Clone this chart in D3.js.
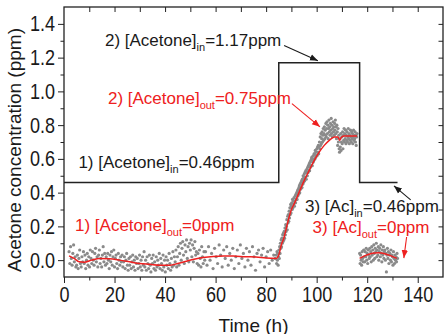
<!DOCTYPE html>
<html>
<head>
<meta charset="utf-8">
<script src="https://cdn.jsdelivr.net/npm/d3@7"></script>
<style>
  body { margin: 0; background: #fff; }
  svg { display: block; font-family: "Liberation Sans", Arial, sans-serif; }
</style>
</head>
<body>
<div id="chart"></div>
<script>
// ----------------------
// Data
// ----------------------
// inlet concentration (step profile)
const inletT = [0, 85, 85, 117, 117, 132];
const inletV = [0.46, 0.46, 1.17, 1.17, 0.46, 0.46];

// outlet measurements, sampled at a fixed interval per run
const seg1aStart = 2, seg1aStep = 0.3;
const seg1aValues = [
  .05,-.02,.08,.01,-.03,.04,.09,-.01,.02,-.04,
  -.03,.03,-.05,.01,.06,-.02,-.04,.02,-.01,.05,
  -.02,.03,-.05,.0,.04,-.03,.02,-.04,.06,.01,
  -.02,.05,.0,-.03,.04,.07,-.01,.02,-.04,.03,
  .06,-.02,.01,-.04,.03,.08,-.01,.04,-.03,.02,
  -.02,.04,.0,-.05,.03,-.01,.05,-.03,.02,.06,
  -.04,.01,.03,-.02,-.05,.04,.0,-.03,.02,-.01,
  .03,-.04,-.01,.02,-.05,.0,.04,-.03,-.06,.01,
  -.03,.02,-.05,-.01,.03,-.04,.0,-.06,.02,-.02,
  .01,-.05,-.02,.03,-.04,.0,-.06,.02,-.03,.05,
  -.04,.0,-.06,.02,-.02,-.05,.03,-.03,-.07,.01,
  -.02,.03,-.05,-.01,-.06,.02,-.04,.0,-.03,.04,
  -.05,.01,-.02,-.06,.03,-.04,.0,-.07,.02,-.03,
  .0,-.05,.04,-.02,-.06,.01,-.04,.05,-.03,.02,
  -.01,.06,-.04,.02,.08,-.03,.04,.1,.0,.07,
  .11,.03,-.02,.09,.05,.12,.01,.08,-.01,.1,
  .06,.12,.02,.09,-.01,.07,.11,.03,.05,-.02,
  .04,-.03,.06,.01,-.04,.08,.02,-.02,.05,.0
];
const seg1bStart = 56, seg1bStep = 0.6;
const seg1bValues = [
  .05,-.03,.08,.0,.04,-.05,.07,.02,-.02,.09,
  .03,-.04,.06,.01,.08,-.03,.04,.0,.07,-.05,
  .02,.06,-.02,.09,.01,.04,-.04,.07,.0,.05,
  -.03,.08,.02,-.06,.04,.06,-.01,.03,.07,-.04,
  .02,.05,-.02,.06,.0,.03,.01
];
const seg2Start = 84, seg2Step = 0.15;
const seg2Values = [
  .03,-.02,.05,.0,.04,-.03,.02,
  .06,.01,.08,.04,.1,.07,.12,
  .08,.13,.1,.15,.11,.16,.12,
  .17,.13,.19,.15,.21,.17,
  .2,.24,.18,.26,.22,.27,.23,
  .29,.25,.31,.27,.33,.28,.32,
  .34,.3,.36,.31,.35,.33,
  .37,.32,.35,.38,.34,.39,.36,
  .4,.36,.41,.38,.42,.39,.43,
  .44,.4,.45,.42,.46,.43,
  .47,.43,.48,.45,.5,.46,.49,
  .51,.47,.52,.49,.53,.48,.52,
  .54,.5,.55,.52,.56,.53,
  .57,.53,.58,.55,.59,.56,.6,
  .61,.56,.6,.58,.62,.59,.63,
  .63,.6,.65,.61,.64,.62,
  .66,.62,.67,.64,.68,.63,.67,
  .7,.66,.73,.68,.75,.69,.72,
  .76,.7,.74,.78,.71,.75,
  .79,.72,.77,.74,.81,.73,.78,
  .82,.75,.8,.72,.78,.83,.76,
  .79,.74,.81,.77,.84,.75,
  .8,.73,.78,.82,.76,.79,.74,
  .81,.77,.83,.75,.79,.72,.8,
  .76,.68,.78,.7,.74,.66,
  .64,.72,.67,.75,.65,.7,.73,
  .69,.76,.66,.74,.71,.78,.7,
  .75,.72,.77,.69,.74,.71,
  .76,.7,.73,.78,.72,.75,.69,
  .74,.71,.77,.73,.7,.76,.72,
  .75,.69,.73,.77,.71,.74,
  .72,.76,.7,.74,.68,.73,.75
];
const seg3Start = 117, seg3Step = 0.2;
const seg3Values = [
  .04,-.02,.03,.0,-.03,.05,.01,-.01,.06,.02,
  -.01,.05,.02,.07,.0,.04,-.02,.06,.03,.01,
  .07,.02,.05,-.01,.08,.03,.06,.0,.09,.04,
  .01,.07,.05,.1,.02,.06,.03,.08,.0,.05,
  .07,.02,.09,.04,-.01,.06,.03,.08,.01,.05,
  .06,.0,.04,-.07,.03,.07,.01,.05,-.02,.03,
  .04,.0,.06,-.01,.03,.02,-.03,.05,.01,-.02,
  .03,.0,.02,-.01,.04,.01
];

// smoothed outlet curves
const fitT1 = [2, 4, 6, 8, 11, 14, 18, 22, 26, 30, 34, 38, 42, 45, 48, 51, 55, 59, 63, 67,
  72, 76, 80, 84, 85, 86, 87, 88, 89, 90, 91, 93, 95, 97, 99, 101, 103, 105, 107, 108.4,
  109.1, 109.8, 111, 113, 116];
const fitV1 = [0.025, 0.01, -0.01, -0.012, 0.0, 0.01, 0.008, 0.0, -0.01, -0.02, -0.025, -0.03, -0.03, -0.02, -0.008, 0.004, 0.015, 0.022, 0.025, 0.024,
  0.02, 0.018, 0.012, 0.01, 0.03, 0.09, 0.13, 0.19, 0.25, 0.30, 0.33, 0.40, 0.47, 0.53, 0.59, 0.64, 0.68, 0.71, 0.73, 0.73,
  0.71, 0.728, 0.735, 0.735, 0.735];
const fitT3 = [117, 119, 121, 123, 124.4, 127, 129, 131, 131.7];
const fitV3 = [0.01, 0.025, 0.036, 0.042, 0.043, 0.038, 0.028, 0.015, 0.01];

// axis ticks
const xMajor = [0, 20, 40, 60, 80, 100, 120, 140];
const xMinor = [10, 30, 50, 70, 90, 110, 130];
const yMajor = [0, 0.2, 0.4, 0.6, 0.8, 1.0, 1.2, 1.4];
const yMinor = [0.1, 0.3, 0.5, 0.7, 0.9, 1.1, 1.3];

const BLACK = "#1a1a1a", RED = "#ee2020";

// annotation labels, anchored in data units
const notes = [
  { t: 16.2, v: 1.266, color: BLACK, pre: "2) [Acetone]", sub: "in",  post: "=1.17ppm" },
  { t: 17.4, v: 0.925, color: RED,   pre: "2) [Acetone]", sub: "out", post: "=0.75ppm" },
  { t: 5.7,  v: 0.545, color: BLACK, pre: "1) [Acetone]", sub: "in",  post: "=0.46ppm" },
  { t: 4.35, v: 0.172, color: RED,   pre: "1) [Acetone]", sub: "out", post: "=0ppm" },
  { t: 95.4, v: 0.287, color: BLACK, pre: "3) [Ac]",      sub: "in",  post: "=0.46ppm" },
  { t: 98.4, v: 0.158, color: RED,   pre: "3) [Ac]",      sub: "out", post: "=0ppm" }
];
const arrows = [
  { from: [87.1, 1.272], to: [100.5, 1.182], color: BLACK },
  { from: [90.2, 0.927], to: [101.3, 0.79],  color: RED },
  { from: [137.2, 0.357], to: [130.6, 0.44], color: BLACK },
  { from: [135.6, 0.137], to: [134.5, 0.012], color: RED }
];

// ----------------------
// Setup
// ----------------------
const W = 447, H = 334;
const margin = { top: 7, right: 4, bottom: 57, left: 64 };
const width = W - margin.left - margin.right;
const height = H - margin.top - margin.bottom;

const svg = d3.select("#chart").append("svg")
  .attr("width", W)
  .attr("height", H);

const g = svg.append("g")
  .attr("transform", `translate(${margin.left},${margin.top})`);

const x = d3.scaleLinear().domain([0, 150]).range([0, width]);
const y = d3.scaleLinear().domain([-0.1, 1.5]).range([height, 0]);

// arrow heads
const defs = svg.append("defs");
[["blk", BLACK], ["red", RED]].forEach(([id, c]) => {
  defs.append("marker")
    .attr("id", "arrow-" + id)
    .attr("viewBox", "0 0 10 10")
    .attr("refX", 10).attr("refY", 5)
    .attr("markerWidth", 8).attr("markerHeight", 8)
    .attr("markerUnits", "userSpaceOnUse")
    .attr("orient", "auto")
    .append("path")
    .attr("d", "M0,1 L10,5 L0,9 Z")
    .attr("fill", c);
});

// ----------------------
// Axes
// ----------------------
const TICK_SCALE = 0.82;

function styleLabels(sel, shiftX) {
  sel.attr("font-family", null).attr("font-size", null);
  sel.selectAll(".tick text")
    .attr("font-size", 22)
    .attr("fill", BLACK)
    .attr("transform", `scale(${TICK_SCALE},1)`);
  if (shiftX) sel.selectAll(".tick text").attr("x", shiftX / TICK_SCALE);
}

const xAxis = g.append("g")
  .attr("transform", `translate(0,${height})`)
  .attr("color", "#222")
  .call(d3.axisBottom(x).tickValues(xMajor).tickSize(6).tickSizeOuter(0).tickPadding(3));
styleLabels(xAxis);
xAxis.select(".domain").remove();

g.append("g")
  .attr("transform", `translate(0,${height})`)
  .attr("color", "#222")
  .call(d3.axisBottom(x).tickValues(xMinor).tickSize(3.5).tickFormat(""))
  .call(a => a.select(".domain").remove());

const yAxis = g.append("g")
  .attr("color", "#222")
  .call(d3.axisLeft(y).tickValues(yMajor).tickSize(6).tickSizeOuter(0).tickPadding(3)
    .tickFormat(d3.format(".1f")));
styleLabels(yAxis, -9);
yAxis.select(".domain").remove();

g.append("g")
  .attr("color", "#222")
  .call(d3.axisLeft(y).tickValues(yMinor).tickSize(3.5).tickFormat(""))
  .call(a => a.select(".domain").remove());

// mirrored ticks on top and right, pointing inward
g.append("g")
  .attr("color", "#222")
  .call(d3.axisTop(x).tickValues(xMajor.concat(xMinor).filter(d => d > 0)).tickSize(-5).tickFormat(""))
  .call(a => a.select(".domain").remove());

g.append("g")
  .attr("transform", `translate(${width},0)`)
  .attr("color", "#222")
  .call(d3.axisRight(y).tickValues(yMajor.concat(yMinor)).tickSize(-4.5).tickFormat(""))
  .call(a => a.select(".domain").remove());

// frame
g.append("rect")
  .attr("width", width)
  .attr("height", height)
  .attr("fill", "none")
  .attr("stroke", "#222")
  .attr("stroke-width", 1.3);

// axis titles
svg.append("text")
  .attr("x", margin.left + width / 2)
  .attr("y", 331.5)
  .attr("text-anchor", "middle")
  .attr("font-size", 19)
  .attr("fill", BLACK)
  .text("Time (h)");

svg.append("text")
  .attr("transform", "translate(20.5,150) rotate(-90)")
  .attr("text-anchor", "middle")
  .attr("font-size", 19)
  .attr("fill", BLACK)
  .text("Acetone concentration (ppm)");

// ----------------------
// Marks
// ----------------------
const toPoints = (start, step, values) => values.map((v, i) => ({ t: start + i * step, v }));
const points = [].concat(
  toPoints(seg1aStart, seg1aStep, seg1aValues),
  toPoints(seg1bStart, seg1bStep, seg1bValues),
  toPoints(seg2Start, seg2Step, seg2Values),
  toPoints(seg3Start, seg3Step, seg3Values)
);

g.append("g")
  .selectAll("circle")
  .data(points)
  .join("circle")
  .attr("cx", d => x(d.t))
  .attr("cy", d => y(d.v))
  .attr("r", 1.6)
  .attr("fill", "#8a8a8a");

const fitLine = d3.line()
  .x(d => x(d[0]))
  .y(d => y(d[1]))
  .curve(d3.curveMonotoneX);

[[fitT1, fitV1], [fitT3, fitV3]].forEach(([ts, vs]) => {
  g.append("path")
    .attr("d", fitLine(ts.map((t, i) => [t, vs[i]])))
    .attr("fill", "none")
    .attr("stroke", RED)
    .attr("stroke-width", 1.5);
});

g.append("path")
  .attr("d", d3.line().x(d => x(d[0])).y(d => y(d[1]))(inletT.map((t, i) => [t, inletV[i]])))
  .attr("fill", "none")
  .attr("stroke", "#222")
  .attr("stroke-width", 1.5);

// ----------------------
// Annotations
// ----------------------
notes.forEach(n => {
  const txt = g.append("text")
    .attr("x", x(n.t))
    .attr("y", y(n.v))
    .attr("font-size", 17)
    .attr("fill", n.color);
  txt.append("tspan").text(n.pre);
  txt.append("tspan").attr("font-size", 11).attr("dy", 5).text(n.sub);
  txt.append("tspan").attr("dy", -5).text(n.post);
});

arrows.forEach(a => {
  g.append("line")
    .attr("x1", x(a.from[0])).attr("y1", y(a.from[1]))
    .attr("x2", x(a.to[0])).attr("y2", y(a.to[1]))
    .attr("stroke", a.color)
    .attr("stroke-width", 1.1)
    .attr("marker-end", `url(#arrow-${a.color === RED ? "red" : "blk"})`);
});
</script>
</body>
</html>
